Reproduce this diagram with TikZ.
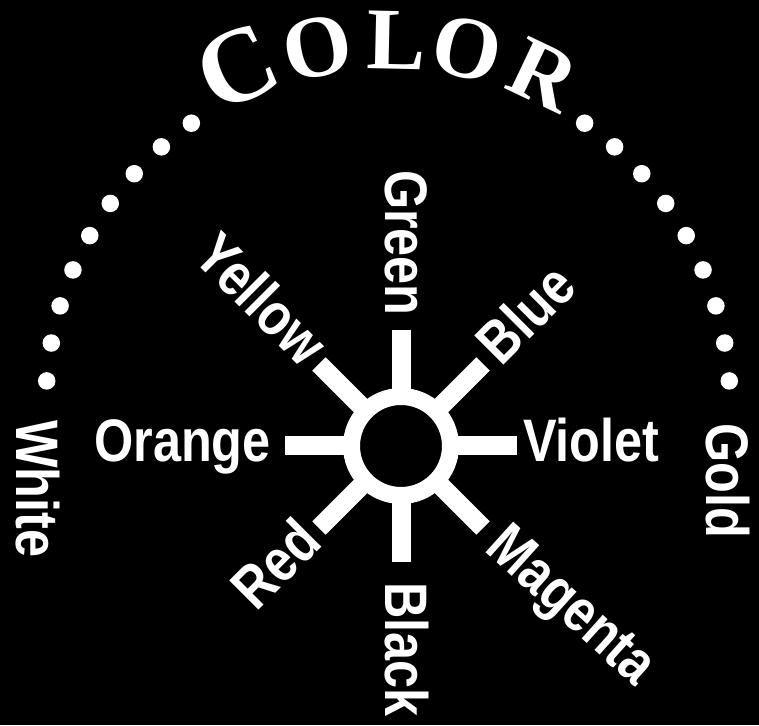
\documentclass[tikz,border=0pt]{standalone}
\usepackage{fontspec}
\usetikzlibrary{calc}
\newfontfamily\lblfont{Liberation Sans}[FakeStretch=0.84]
\newfontfamily\titlefont{Liberation Serif}
\begin{document}
\begin{tikzpicture}[x=1pt,y=1pt,
  lbl/.style={font=\lblfont\bfseries\fontsize{60}{72}\selectfont, text=white, inner sep=0pt},
  spoke/.style={draw=white, line width=19pt, shorten <=-3pt},
  dotmark/.style={circle, fill=white, minimum size=17.5pt, inner sep=0pt},
  ttl/.style={text=white, inner sep=0pt, anchor=base},
  bigcap/.style={ttl, font=\titlefont\bfseries\fontsize{106}{110}\selectfont},
  smallcap/.style={ttl, font=\titlefont\bfseries\fontsize{88}{92}\selectfont}
]
\fill[black] (0,0) rectangle (759,725);
\useasboundingbox (0,0) rectangle (759,725);
\coordinate (arcc) at (388,322);
\node[circle, draw=white, line width=17pt, minimum size=99pt, inner sep=0pt] (ring) at (401,279) {};
\foreach \a in {0,45,...,315}{
  \coordinate (e\a) at ($(ring.center)+(\a:116)$);
  \draw[spoke] (ring.\a) -- (e\a);
}
% labels (baseline placed half an x-height below the spoke axis)
\node[lbl, anchor=base west, rotate=0]   (violet)  at ($(ring.center)+(0:122)+(-90:15.6)$)    {Violet};
\node[lbl, anchor=base west, rotate=45]  (blue)    at ($(ring.center)+(45:127)+(-45:15.6)$)   {Blue};
\node[lbl, anchor=base east, rotate=-90] (green)   at ($(ring.center)+(90:130)+(-180:15.6)$)  {Green};
\node[lbl, anchor=base east, rotate=-45] (yellow)  at ($(ring.center)+(135:124)+(-135:15.6)$) {Yellow};
\node[lbl, anchor=base east, rotate=0]   (orange)  at ($(ring.center)+(180:130)+(-90:15.6)$)  {Orange};
\node[lbl, anchor=base east, rotate=45]  (red)     at ($(ring.center)+(225:124)+(-45:15.6)$)  {Red};
\node[lbl, anchor=base west, rotate=-90] (black)   at ($(ring.center)+(270:136)+(-180:15.6)$) {Black};
\node[lbl, anchor=base west, rotate=-42] (magenta) at ($(ring.center)+(315:131)+(-132:15.6)$) {Magenta};
\node[lbl, anchor=base west, rotate=-90] (white) at (16.5,305) {White};
\node[lbl, anchor=base west, rotate=-90] (gold)  at (706.5,302) {Gold};
% dotted arc
\foreach \k in {0,...,8}{
  \node[dotmark] (dr\k) at ($(arcc)+({3.7+6.4*\k}:342)$) {};
  \node[dotmark] (dl\k) at ($(arcc)+({176.3-6.4*\k}:342)$) {};
}
% title
\node[bigcap, rotate=24.2]    (t1) at ($(arcc)+(114.2:334)$) {C};
\node[smallcap, rotate=11.3]  (t2) at ($(arcc)+(101.3:334)$) {O};
\node[smallcap, rotate=-1.3]  (t3) at ($(arcc)+(88.7:334)$)  {L};
\node[smallcap, rotate=-12.6] (t4) at ($(arcc)+(77.4:334)$)  {O};
\node[smallcap, rotate=-25.4] (t5) at ($(arcc)+(64.6:334)$)  {R};
\end{tikzpicture}
\end{document}
